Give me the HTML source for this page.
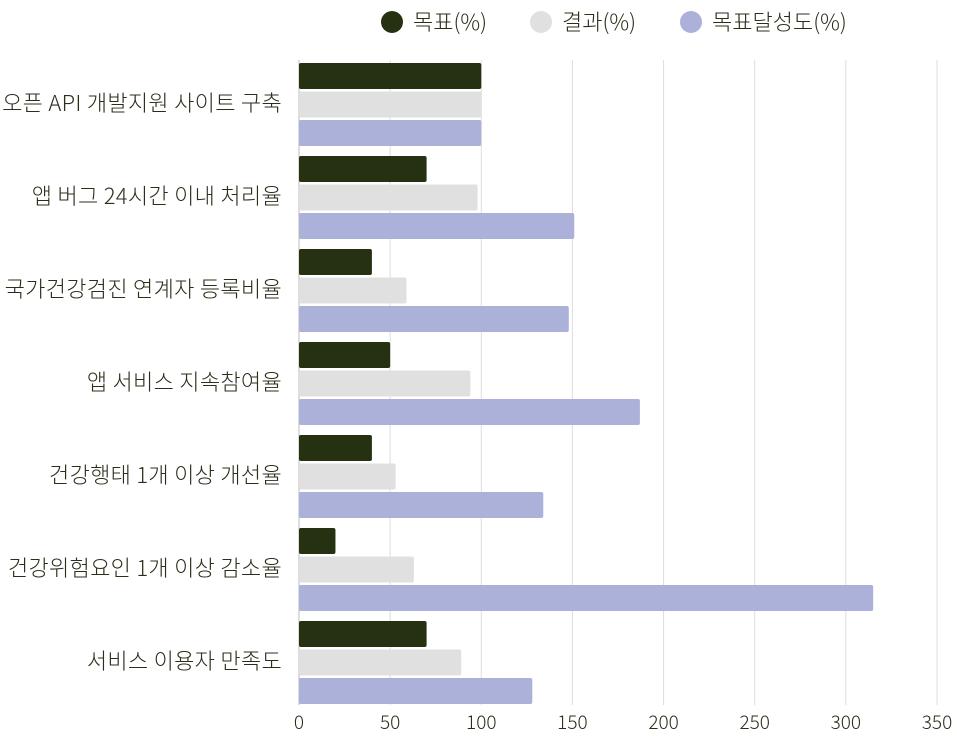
<!DOCTYPE html>
<html><head><meta charset="utf-8"><style>
body{margin:0;background:#fff;width:957px;height:731px;overflow:hidden;}
text{font-family:"Noto Sans CJK KR","Liberation Sans",sans-serif;font-weight:300;}
</style></head><body>
<svg id="chart" width="957" height="731"></svg>
<script>
const categories=["오픈 API 개발지원 사이트 구축","앱 버그 24시간 이내 처리율","국가건강검진 연계자 등록비율","앱 서비스 지속참여율","건강행태 1개 이상 개선율","건강위험요인 1개 이상 감소율","서비스 이용자 만족도"];
const targetVals=[100,70,40,50,40,20,70];
const resultVals=[100,98,59,94,53,63,89];
const achieveVals=[100,151,148,187,134,315,128];
const ticks=[0,50,100,150,200,250,300,350];
const seriesNames=["목표(%)","결과(%)","목표달성도(%)"];
const colors=["#253110","#e0e0e0","#abb1d8"];
const NS="http://www.w3.org/2000/svg";
const svgEl=document.getElementById('chart');
const x0=299,x1=937,plotTop=60,groupH=93;
const txtCol='#2a2f1a';
function xs(v){return x0+v*(x1-x0)/350;}
function mk(t,a){const e=document.createElementNS(NS,t);for(const k in a)e.setAttribute(k,a[k]);svgEl.appendChild(e);return e;}
ticks.forEach(t=>{
 const l=mk('line',{x1:xs(t),x2:xs(t),y1:plotTop,y2:705,stroke:t===0?'#bbb':'#ddd','stroke-width':1});
 
 
 const tx=mk('text',{x:xs(t),y:729,'text-anchor':'middle','font-size':19,fill:txtCol});tx.textContent=t;
 
 
});
const series=[targetVals,resultVals,achieveVals];
categories.forEach((c,i)=>{
 const gy=63+i*groupH;
 const lab=mk('text',{x:282,y:gy+48,'text-anchor':'end','font-size':22,'letter-spacing':0.3,fill:txtCol});lab.textContent=c;
 
 
 series.forEach((s,j)=>{
  const r=mk('rect',{x:x0,y:gy+j*28.5,width:xs(s[i])-x0,height:26,fill:colors[j],rx:2});
  
  
 });
});
const lx=[392,541,691];
seriesNames.forEach((n,j)=>{
 const c=mk('circle',{cx:lx[j],cy:22,r:11,fill:colors[j]});
 
 
 const t=mk('text',{x:lx[j]+21,y:30,'font-size':22,fill:txtCol});t.textContent=n;
 
 
});
</script>
</body></html>
